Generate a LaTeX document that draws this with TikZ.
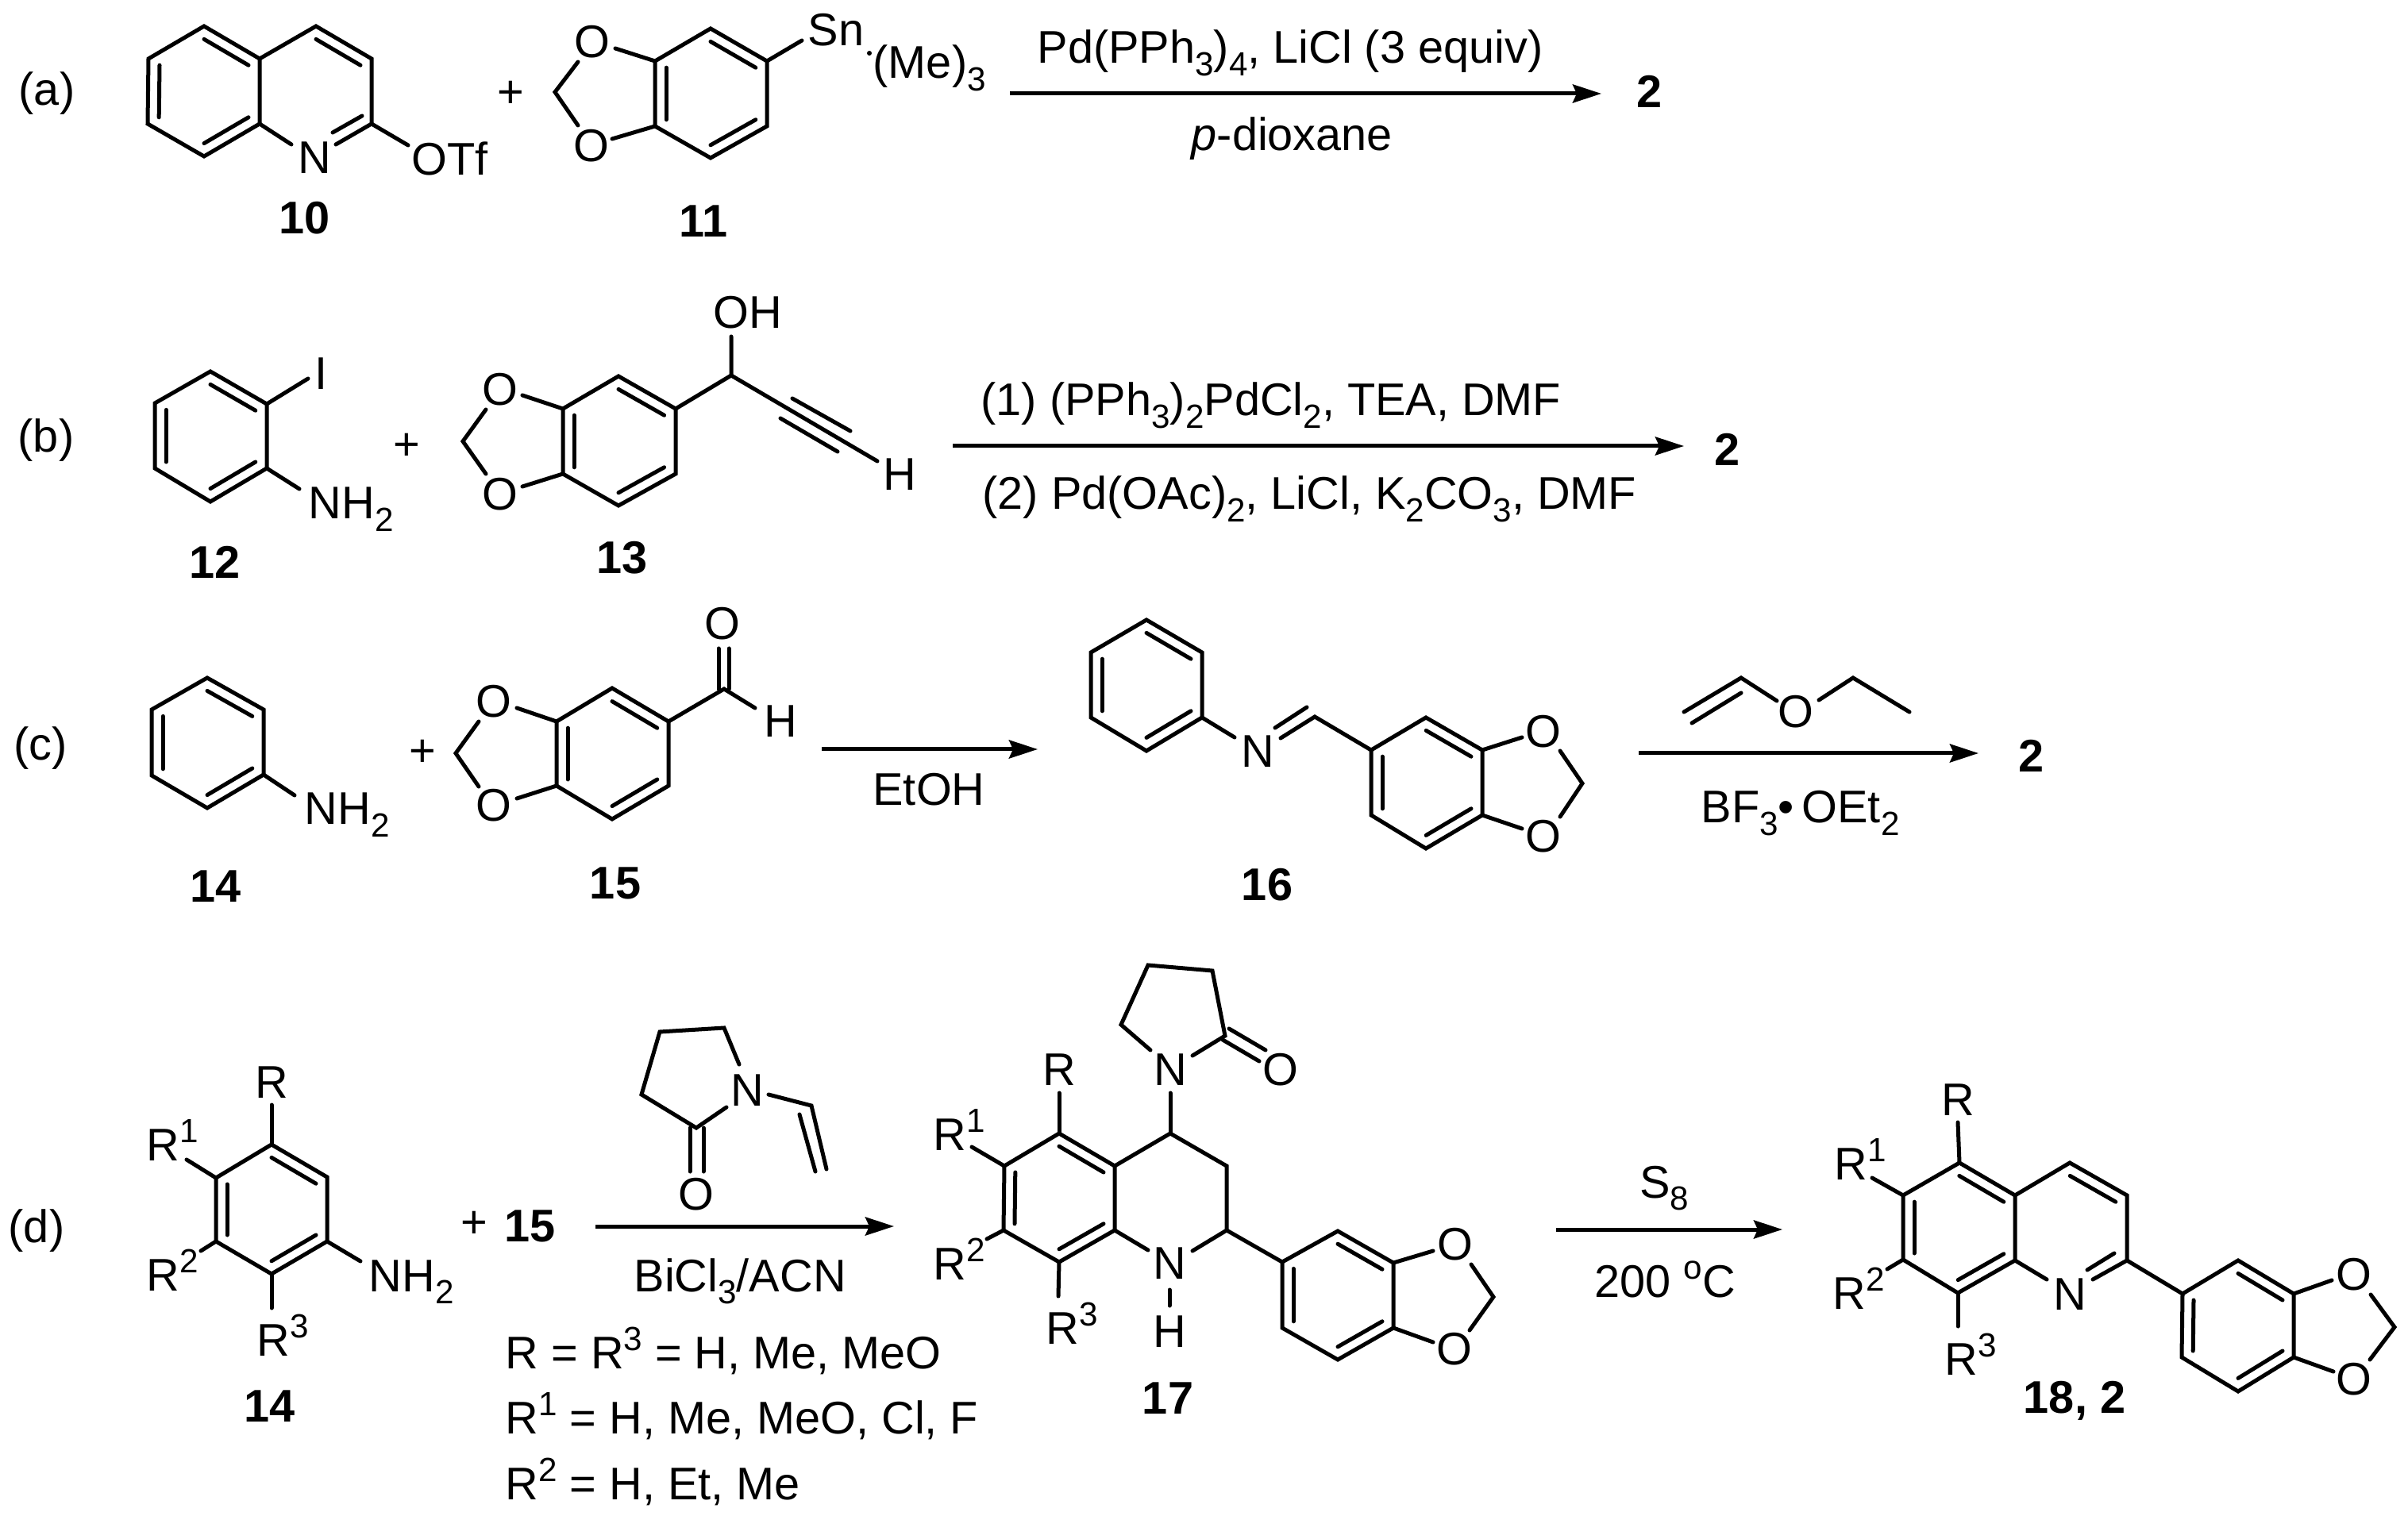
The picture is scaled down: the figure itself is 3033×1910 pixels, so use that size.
\documentclass[tikz,border=0pt]{standalone}
\usepackage{fontspec}
\setmainfont{Liberation Sans}
\usetikzlibrary{calc,arrows.meta}
\def\innerbond(#1)(#2)(#3){\draw[bond] ($(#1)!0.2!(#3)$) -- ($(#2)!0.2!(#3)$);}
\newcommand{\sbs}[1]{\raisebox{-0.5ex}{\fontsize{12}{13}\selectfont #1}}
\newcommand{\sps}[1]{\raisebox{0.75ex}{\fontsize{12}{13}\selectfont #1}}
\tikzset{
	bond/.style={line width=0.05cm, line cap=round, line join=miter},
	rxn/.style={line width=0.05cm, -{Stealth[length=3.6mm,width=2.3mm,inset=0.5mm]}},
	atom/.style={inner sep=0, font=\fontsize{16.4}{19}\selectfont},
	lead/.style={atom, anchor=base west},
	cmpd/.style={atom, font=\fontsize{16.4}{19}\selectfont\bfseries},
}

\begin{document}
\begin{tikzpicture}[x=0.01cm, y=-0.01cm]
	\useasboundingbox (0, 0) rectangle (3033, 1910);

	%%%%% (a) %%%%%
	\node[atom] (taga) at (59, 118) {(a)};
	\draw[bond] (327, 74) -- (257, 33) -- (187, 74) -- (186, 156) -- (257, 197) -- (327, 156) -- cycle;
	\draw[bond] (327, 74) -- (398, 33) -- (468, 74) -- (468, 156) -- (423, 182);
	\draw[bond] (327, 156) -- (367, 182);
	\draw[bond] (468, 156) -- (514, 183);
	\draw[bond] (419, 167) -- (456, 146);
	\innerbond(257, 33)(327, 74)(257, 115)
	\innerbond(187, 74)(186, 156)(257, 115)
	\innerbond(327, 156)(257, 197)(257, 115)
	\innerbond(398, 33)(468, 74)(398, 115)
	\node[atom] (na) at (396, 199) {N};
	\node[atom, anchor=west] (otf) at (518, 200) {OTf};
	\node[cmpd] (c10) at (384, 275) {10};
	\node[atom] (plusa) at (643, 119) {+};

	\draw[bond] (825, 77) -- (895, 36) -- (966, 77) -- (966, 159) -- (895, 199) -- (825, 159) -- cycle;
	\draw[bond] (775, 61) -- (825, 77);
	\draw[bond] (771, 175) -- (825, 159);
	\draw[bond] (728, 78) -- (699, 116) -- (728, 158);
	\draw[bond] (966, 77) -- (1010, 51);
	\innerbond(895, 36)(966, 77)(895, 118)
	\innerbond(825, 77)(825, 159)(895, 118)
	\innerbond(966, 159)(895, 199)(895, 118)
	\node[atom] (o11a) at (746, 53) {O};
	\node[atom] (o11b) at (745, 184) {O};
	\node[atom] (sn) at (1053, 38) {Sn};
	\fill (1095, 67) circle (3);
	\node[lead] (me3) at (1099, 99) {(Me)\sbs{3}};
	\node[cmpd] (c11) at (886, 279) {11};

	\coordinate (a1) at (1272, 118);
	\coordinate (a2) at (2017, 118);
	\draw[rxn] (a1) -- (a2);
	\node[lead] (pd) at (1306, 80) {Pd(PPh\sbs{3})\sbs{4}, LiCl (3 equiv)};
	\node[lead] (diox) at (1500, 190) {\textit{p}-dioxane};
	\node[cmpd] (proda) at (2078, 115) {2};

	%%%%% (b) %%%%%
	\node[atom] (tagb) at (58, 555) {(b)};
	\draw[bond] (265, 468) -- (336, 509) -- (336, 590) -- (265, 632) -- (195, 590) -- (195, 508) -- cycle;
	\draw[bond] (336, 509) -- (388, 477);
	\draw[bond] (336, 590) -- (377, 616);
	\innerbond(265, 468)(336, 509)(265, 550)
	\innerbond(195, 508)(195, 590)(265, 550)
	\innerbond(336, 590)(265, 632)(265, 550)
	\node[atom] (iod) at (405, 471) {I};
	\node[lead] (nh2b) at (388, 654) {NH\sbs{2}};
	\node[cmpd] (c12) at (271, 708) {12};
	\node[atom] (plusb) at (512, 563) {+};

	\draw[bond] (709, 515) -- (779, 474) -- (851, 515) -- (851, 597) -- (779, 637) -- (709, 597) -- cycle;
	\draw[bond] (658, 498) -- (709, 515);
	\draw[bond] (658, 613) -- (709, 597);
	\draw[bond] (612, 516) -- (583, 556) -- (612, 597);
	\draw[bond] (851, 515) -- (921, 473) -- (921, 424);
	\draw[bond] (921, 473) -- (1105, 581);
	\draw[bond] (998, 502) -- (1071, 543);
	\draw[bond] (983, 527) -- (1055, 569);
	\innerbond(779, 474)(851, 515)(779, 556)
	\innerbond(709, 515)(709, 597)(779, 556)
	\innerbond(851, 597)(779, 637)(779, 556)
	\node[atom] (o13a) at (630, 491) {O};
	\node[atom] (o13b) at (630, 623) {O};
	\node[atom] (oh) at (942, 394) {OH};
	\node[atom] (hb) at (1133, 598) {H};
	\node[cmpd] (c13) at (784, 703) {13};

	\coordinate (b1) at (1200, 562);
	\coordinate (b2) at (2121, 562);
	\draw[rxn] (b1) -- (b2);
	\node[lead] (stepone) at (1235, 524) {(1) (PPh\sbs{3})\sbs{2}PdCl\sbs{2}, TEA, DMF};
	\node[lead] (steptwo) at (1237, 642) {(2) Pd(OAc)\sbs{2}, LiCl, K\sbs{2}CO\sbs{3}, DMF};
	\node[cmpd] (prodb) at (2176, 566) {2};

	%%%%% (c) %%%%%
	\node[atom] (tagc) at (51, 943) {(c)};
	\draw[bond] (261, 854) -- (332, 894) -- (332, 976) -- (261, 1018) -- (191, 977) -- (191, 894) -- cycle;
	\draw[bond] (332, 976) -- (371, 1002);
	\innerbond(261, 854)(332, 894)(261, 936)
	\innerbond(191, 894)(191, 977)(261, 936)
	\innerbond(332, 976)(261, 1018)(261, 936)
	\node[lead] (nh2c) at (383, 1039) {NH\sbs{2}};
	\node[cmpd] (c14c) at (272, 1117) {14};
	\node[atom] (plusc) at (532, 949) {+};

	\draw[bond] (701, 909) -- (771, 867) -- (842, 909) -- (842, 990) -- (771, 1032) -- (701, 990) -- cycle;
	\draw[bond] (651, 892) -- (701, 909);
	\draw[bond] (651, 1006) -- (701, 990);
	\draw[bond] (603, 909) -- (574, 949) -- (603, 991);
	\draw[bond] (842, 909) -- (912, 868) -- (951, 892);
	\draw[bond] (905, 868) -- (905, 817);
	\draw[bond] (918, 868) -- (918, 817);
	\innerbond(771, 867)(842, 909)(771, 950)
	\innerbond(701, 909)(701, 990)(771, 950)
	\innerbond(842, 990)(771, 1032)(771, 950)
	\node[atom] (o15a) at (622, 884) {O};
	\node[atom] (o15b) at (622, 1015) {O};
	\node[atom] (o15c) at (910, 786) {O};
	\node[atom] (hc) at (983, 909) {H};
	\node[cmpd] (c15) at (775, 1113) {15};

	\coordinate (c1) at (1035, 944);
	\coordinate (c2) at (1307, 944);
	\draw[rxn] (c1) -- (c2);
	\node[atom] (etoh) at (1170, 995) {EtOH};

	\draw[bond] (1444, 781) -- (1514, 822) -- (1514, 904) -- (1444, 946) -- (1374, 904) -- (1374, 822) -- cycle;
	\draw[bond] (1514, 904) -- (1555, 929);
	\draw[bond] (1613, 930) -- (1656, 903) -- (1727, 945);
	\draw[bond] (1606, 917) -- (1646, 891);
	\draw[bond] (1727, 945) -- (1796, 904) -- (1867, 945) -- (1867, 1027) -- (1796, 1069) -- (1727, 1027) -- cycle;
	\draw[bond] (1867, 945) -- (1917, 929);
	\draw[bond] (1867, 1027) -- (1917, 1044);
	\draw[bond] (1965, 946) -- (1993, 987) -- (1965, 1029);
	\innerbond(1444, 781)(1514, 822)(1444, 863)
	\innerbond(1374, 822)(1374, 904)(1444, 863)
	\innerbond(1514, 904)(1444, 946)(1444, 863)
	\innerbond(1796, 904)(1867, 945)(1797, 986)
	\innerbond(1727, 945)(1727, 1027)(1797, 986)
	\innerbond(1867, 1027)(1796, 1069)(1797, 986)
	\node[atom] (n16) at (1584, 947) {N};
	\node[atom] (o16a) at (1944, 922) {O};
	\node[atom] (o16b) at (1944, 1054) {O};
	\node[cmpd] (c16) at (1596, 1115) {16};

	\coordinate (c3) at (2064, 949);
	\coordinate (c4) at (2492, 949);
	\draw[rxn] (c3) -- (c4);
	\draw[bond] (2121, 897) -- (2193, 854) -- (2238, 883);
	\draw[bond] (2131, 911) -- (2193, 873);
	\draw[bond] (2291, 882) -- (2334, 854) -- (2405, 897);
	\node[atom] (oeth) at (2262, 897) {O};
	\node[lead] (bf3) at (2142, 1037) {BF\sbs{3}•\,OEt\sbs{2}};
	\node[cmpd] (prodc) at (2559, 952) {2};

	%%%%% (d) %%%%%
	\node[atom] (tagd) at (46, 1551) {(d)};
	\draw[bond] (342, 1442) -- (412, 1483) -- (412, 1564) -- (342, 1605) -- (272, 1564) -- (272, 1484) -- cycle;
	\draw[bond] (342, 1442) -- (342, 1392);
	\draw[bond] (272, 1484) -- (235, 1461);
	\draw[bond] (272, 1564) -- (253, 1576);
	\draw[bond] (342, 1605) -- (342, 1648);
	\draw[bond] (412, 1564) -- (454, 1589);
	\innerbond(342, 1442)(412, 1483)(342, 1524)
	\innerbond(272, 1484)(272, 1564)(342, 1524)
	\innerbond(412, 1564)(342, 1605)(342, 1524)
	\node[atom] (r14) at (342, 1364) {R};
	\node[lead] (r14a) at (184, 1462) {R\sps{1}};
	\node[lead] (r14b) at (184, 1626) {R\sps{2}};
	\node[lead] (r14c) at (323, 1708) {R\sps{3}};
	\node[lead] (nh2d) at (464, 1627) {NH\sbs{2}};
	\node[cmpd] (c14d) at (340, 1772) {14};
	\node[atom] (plusd) at (597, 1543) {+};
	\node[cmpd] (c15d) at (668, 1545) {15};

	\coordinate (d1) at (750, 1545);
	\coordinate (d2) at (1126, 1545);
	\draw[rxn] (d1) -- (d2);
	\draw[bond] (931, 1341) -- (912, 1295) -- (831, 1300) -- (808, 1379) -- (877, 1421) -- (915, 1395);
	\draw[bond] (869, 1421) -- (869, 1476);
	\draw[bond] (886, 1421) -- (886, 1476);
	\draw[bond] (968, 1379) -- (1022, 1393) -- (1041, 1473);
	\draw[bond] (1007, 1404) -- (1027, 1476);
	\node[atom] (nvp) at (941, 1374) {N};
	\node[atom] (ovp) at (877, 1505) {O};
	\node[lead] (bicl) at (798, 1627) {BiCl\sbs{3}/ACN};
	\node[lead] (rdefa) at (636, 1724) {R = R\sps{3} = H, Me, MeO};
	\node[lead] (rdefb) at (636, 1806) {R\sps{1} = H, Me, MeO, Cl, F};
	\node[lead] (rdefc) at (636, 1889) {R\sps{2} = H, Et, Me};

	\draw[bond] (1334, 1428) -- (1404, 1469) -- (1404, 1550) -- (1334, 1590) -- (1264, 1550) -- (1265, 1469) -- cycle;
	\draw[bond] (1334, 1428) -- (1334, 1377);
	\draw[bond] (1265, 1469) -- (1224, 1445);
	\draw[bond] (1264, 1550) -- (1243, 1561);
	\draw[bond] (1334, 1590) -- (1333, 1633);
	\draw[bond] (1404, 1550) -- (1446, 1575);
	\draw[bond] (1502, 1576) -- (1545, 1550) -- (1545, 1469) -- (1474, 1428) -- (1404, 1469);
	\draw[bond] (1474, 1428) -- (1474, 1377);
	\draw[bond] (1473, 1625) -- (1473, 1645);
	\draw[bond] (1449, 1323) -- (1412, 1291) -- (1446, 1216) -- (1527, 1223) -- (1543, 1305) -- (1502, 1330);
	\draw[bond] (1548, 1296) -- (1594, 1323);
	\draw[bond] (1540, 1310) -- (1586, 1337);
	\draw[bond] (1545, 1550) -- (1615, 1590);
	\draw[bond] (1615, 1590) -- (1685, 1551) -- (1755, 1591) -- (1755, 1673) -- (1685, 1713) -- (1615, 1673) -- cycle;
	\draw[bond] (1755, 1591) -- (1805, 1576);
	\draw[bond] (1755, 1673) -- (1805, 1691);
	\draw[bond] (1853, 1593) -- (1881, 1634) -- (1851, 1676);
	\innerbond(1334, 1428)(1404, 1469)(1334, 1509)
	\innerbond(1265, 1469)(1264, 1550)(1334, 1509)
	\innerbond(1404, 1550)(1334, 1590)(1334, 1509)
	\innerbond(1685, 1551)(1755, 1591)(1685, 1632)
	\innerbond(1615, 1590)(1615, 1673)(1685, 1632)
	\innerbond(1755, 1673)(1685, 1713)(1685, 1632)
	\node[atom] (r17) at (1334, 1348) {R};
	\node[lead] (r17a) at (1175, 1449) {R\sps{1}};
	\node[lead] (r17b) at (1175, 1612) {R\sps{2}};
	\node[lead] (r17c) at (1317, 1693) {R\sps{3}};
	\node[atom] (n17a) at (1474, 1348) {N};
	\node[atom] (o17c) at (1613, 1348) {O};
	\node[atom] (n17b) at (1473, 1592) {N};
	\node[atom] (h17) at (1473, 1678) {H};
	\node[atom] (o17a) at (1833, 1568) {O};
	\node[atom] (o17b) at (1832, 1700) {O};
	\node[cmpd] (c17) at (1471, 1762) {17};

	\coordinate (d3) at (1960, 1549);
	\coordinate (d4) at (2245, 1549);
	\draw[rxn] (d3) -- (d4);
	\node[atom] (s8) at (2096, 1497) {S\sbs{8}};
	\node[atom] (temp) at (2097, 1612) {200 \sps{o}C};

	\draw[bond] (2468, 1465) -- (2538, 1506) -- (2538, 1588) -- (2466, 1629) -- (2397, 1587) -- (2397, 1506) -- cycle;
	\draw[bond] (2468, 1465) -- (2466, 1414);
	\draw[bond] (2397, 1506) -- (2358, 1484);
	\draw[bond] (2397, 1587) -- (2377, 1599);
	\draw[bond] (2466, 1629) -- (2466, 1671);
	\draw[bond] (2538, 1506) -- (2607, 1465) -- (2679, 1506) -- (2679, 1588) -- (2636, 1612);
	\draw[bond] (2538, 1588) -- (2578, 1612);
	\draw[bond] (2629, 1600) -- (2663, 1579);
	\draw[bond] (2679, 1588) -- (2749, 1630);
	\draw[bond] (2749, 1630) -- (2819, 1588) -- (2889, 1630) -- (2889, 1710) -- (2819, 1753) -- (2748, 1710) -- cycle;
	\draw[bond] (2889, 1630) -- (2937, 1613);
	\draw[bond] (2889, 1710) -- (2939, 1728);
	\draw[bond] (2986, 1631) -- (3016, 1672) -- (2985, 1713);
	\innerbond(2468, 1465)(2538, 1506)(2467, 1547)
	\innerbond(2397, 1506)(2397, 1587)(2467, 1547)
	\innerbond(2538, 1588)(2466, 1629)(2467, 1547)
	\innerbond(2607, 1465)(2679, 1506)(2608, 1547)
	\innerbond(2819, 1588)(2889, 1630)(2819, 1670)
	\innerbond(2749, 1630)(2748, 1710)(2819, 1670)
	\innerbond(2889, 1710)(2819, 1753)(2819, 1670)
	\node[atom] (r18) at (2466, 1386) {R};
	\node[lead] (r18a) at (2310, 1486) {R\sps{1}};
	\node[lead] (r18b) at (2308, 1649) {R\sps{2}};
	\node[lead] (r18c) at (2449, 1732) {R\sps{3}};
	\node[atom] (n18) at (2607, 1631) {N};
	\node[atom] (o18a) at (2965, 1606) {O};
	\node[atom] (o18b) at (2965, 1738) {O};
	\node[cmpd] (c18) at (2613, 1765) {18, 2};
\end{tikzpicture}
\end{document}
